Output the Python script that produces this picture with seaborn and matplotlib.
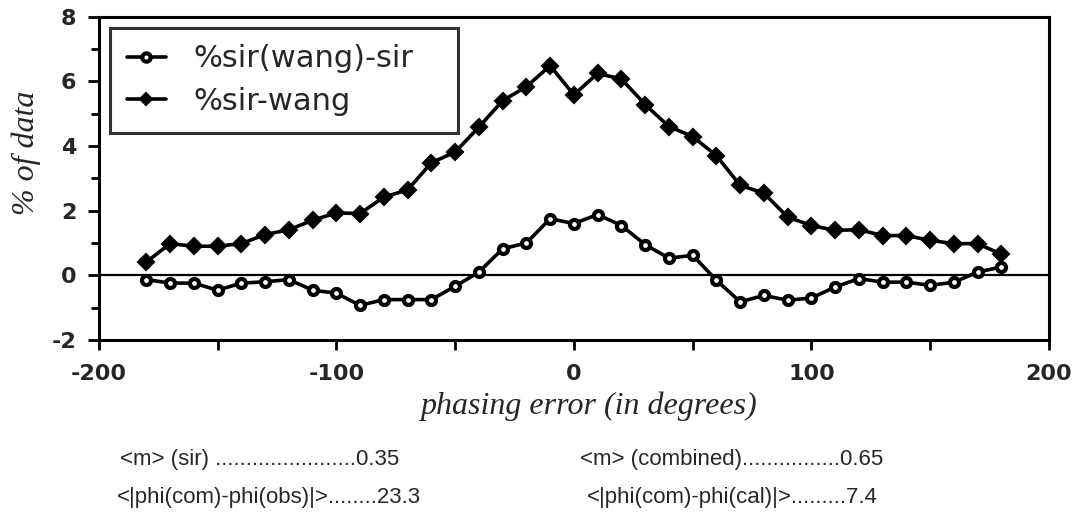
import numpy as np
import pandas as pd
import matplotlib
matplotlib.use("Agg")
import matplotlib.pyplot as plt
import seaborn as sns

phase = [-180, -170, -160, -150, -140, -130, -120, -110, -100, -90, -80, -70, -60, -50,
         -40, -30, -20, -10, 0, 10, 20, 30, 40, 50, 60, 70, 80, 90, 100, 110, 120, 130,
         140, 150, 160, 170, 180]
sir_wang_minus_sir = [-0.13, -0.24, -0.24, -0.46, -0.24, -0.20, -0.13, -0.46, -0.55, -0.93,
                      -0.75, -0.75, -0.75, -0.34, 0.10, 0.82, 1.00, 1.75, 1.60, 1.88, 1.54,
                      0.95, 0.53, 0.62, -0.15, -0.82, -0.62, -0.77, -0.70, -0.36, -0.10,
                      -0.21, -0.21, -0.31, -0.21, 0.10, 0.26]
sir_wang = [0.41, 0.98, 0.90, 0.90, 0.98, 1.26, 1.41, 1.70, 1.93, 1.91, 2.42, 2.64, 3.48,
            3.81, 4.58, 5.40, 5.83, 6.48, 5.58, 6.24, 6.07, 5.28, 4.60, 4.29, 3.70, 2.78,
            2.54, 1.80, 1.54, 1.39, 1.41, 1.23, 1.23, 1.08, 0.98, 0.98, 0.65]
series_names = ["%sir(wang)-sir", "%sir-wang"]
x_ticks = [-200, -100, 0, 100, 200]
y_ticks = [-2, 0, 2, 4, 6, 8]
stats_left = ["<m> (sir) .......................0.35", "<|phi(com)-phi(obs)|>........23.3"]
stats_right = ["<m> (combined)................0.65", "<|phi(com)-phi(cal)|>.........7.4"]

sns.set_style("ticks")
plt.rcParams['font.family'] = ['DejaVu Sans']

fig = plt.figure(figsize=(10.77, 5.16), dpi=100)
ax = fig.add_axes([0.0917, 0.341, 0.8823, 0.627])

df = pd.DataFrame({"x": phase, "a": sir_wang_minus_sir, "b": sir_wang})

ax.axhline(0, color="black", lw=1.6, zorder=1)
sns.lineplot(data=df, x="x", y="a", ax=ax, color="black", lw=2.6, marker="o",
             markersize=6.5, markerfacecolor="white", markeredgecolor="black",
             markeredgewidth=3, label=series_names[0], zorder=3)
sns.lineplot(data=df, x="x", y="b", ax=ax, color="black", lw=2.6, marker="D",
             markersize=8.5, markerfacecolor="black", markeredgecolor="black",
             markeredgewidth=1.5, label=series_names[1], zorder=3)

ax.set_xlim(-200, 200)
ax.set_ylim(-2, 8)
ax.set_xticks(x_ticks)
ax.set_xticks([-150, -50, 50, 150], minor=True)
ax.set_yticks(y_ticks)
ax.set_yticks([-1, 1, 3, 5, 7], minor=True)
ax.set_xticklabels([str(t) for t in x_ticks], fontsize=16, fontweight="bold")
ax.set_yticklabels([str(t) for t in y_ticks], fontsize=16, fontweight="bold")
ax.tick_params(axis="both", which="major", direction="out", length=8, width=2,
               color="black")
ax.tick_params(axis="both", which="minor", direction="out", length=5.5, width=2,
               color="black")
ax.tick_params(axis="x", which="major", length=7.5, pad=10)
ax.tick_params(axis="x", which="minor", length=7.5)
ax.tick_params(axis="y", which="major", pad=8)
for s in ax.spines.values():
    s.set_linewidth(2.2)
    s.set_color("black")
    s.set_visible(True)

ax.set_xlabel("")
ax.set_ylabel("")
fig.text(0.547, 0.213, "phasing error (in degrees)", ha="center", va="center",
         fontsize=23, style="italic", family="Liberation Serif")
fig.text(0.024, 0.703, "% of data", ha="center", va="center", rotation=90,
         fontsize=23, style="italic", family="Liberation Serif")

leg = ax.legend(loc="upper left", bbox_to_anchor=(0.0116, 0.5, 0.366, 0.466),
                mode="expand", fontsize=22,
                frameon=True, fancybox=False, edgecolor="black", handlelength=1.3,
                handletextpad=0.9, borderpad=0.55, labelspacing=0.45,
                borderaxespad=0.0)
leg.get_frame().set_linewidth(2.2)
for h in leg.get_lines():
    h.set_markersize(6)

stat_font = dict(fontsize=16, family="Liberation Sans", ha="left", va="center")
fig.text(120 / 1077, 1 - 460 / 516, stats_left[0], **stat_font)
fig.text(117 / 1077, 1 - 498 / 516, stats_left[1], **stat_font)
fig.text(580 / 1077, 1 - 460 / 516, stats_right[0], **stat_font)
fig.text(587 / 1077, 1 - 497 / 516, stats_right[1], **stat_font)

fig.savefig("out.png", dpi=100, facecolor="white")
